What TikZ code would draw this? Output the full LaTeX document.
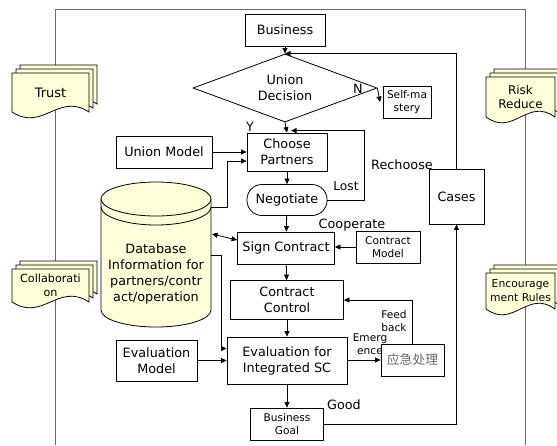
\documentclass[tikz,border=0pt]{standalone}
\usepackage{fontspec}
\setmainfont{DejaVu Sans}
\newfontfamily\cjkfont{Noto Sans CJK SC}
\usetikzlibrary{arrows.meta,shapes.geometric,calc}

\definecolor{docfill}{RGB}{255,255,217}
\definecolor{framegray}{RGB}{105,105,105}

\tikzset{
  big/.style={font=\fontsize{12.8}{16}\selectfont},
  small/.style={font=\fontsize{10.6}{12.5}\selectfont},
  box/.style={draw=black, line width=0.8pt, inner sep=1pt, align=center, big},
  sbox/.style={box, small},
  lbl/.style={inner sep=0pt, align=center, big},
  slbl/.style={inner sep=0pt, align=center, small},
  arr/.style={line width=0.8pt, -{Triangle[length=5.5pt,width=5pt]}},
  arrboth/.style={line width=0.8pt, {Triangle[length=5.5pt,width=5pt]}-{Triangle[length=5.5pt,width=5pt]}},
  docshape/.style={draw, line width=0.8pt, fill=docfill},
  frame/.style={draw=framegray, line width=0.9pt},
}

% stack of three documents: name, left x, top y, width, side height, font size, text
\newcommand\docstack[7]{%
  \foreach \o in {8,4,0} {%
    \filldraw[docshape] (#2+\o,#3-\o) -- (#2+#4+\o,#3-\o) -- (#2+#4+\o,#3+#5-\o)
      .. controls (#2+0.6*#4+\o,#3+#5-20-\o) and (#2+0.4*#4+\o,#3+#5+20-\o) .. (#2+\o,#3+#5-\o) -- cycle;}
  \node[inner sep=0pt, align=center, font=\fontsize{#6}{14}\selectfont] (#1) at (#2+#4/2,#3+#5/2) {#7};}

\begin{document}
\begin{tikzpicture}[x=1pt,y=-1pt]
\useasboundingbox (0,0) rectangle (557,445);
\clip (0,0) rectangle (557,445);

% outer frame, open at the bottom
\draw[frame] (55,445) -- (55,9) -- (525,9) -- (525,445);

% side documents
\docstack{trust}{12}{73}{77}{39}{13}{Trust}
\docstack{collab}{12}{269}{77}{33}{11.2}{Collaborati\\on}
\docstack{risk}{486}{77}{69}{40}{12}{Risk\\Reduce}
\docstack{encour}{486}{273}{69}{36}{10.8}{Encourage\\ment Rules}

% database cylinder
\fill[docfill] (101,199) -- (101,310)
  .. controls (101,319.4) and (125.6,327) .. (156,327)
  .. controls (186.4,327) and (211,319.4) .. (211,310)
  -- (211,199) -- cycle;
\filldraw[docshape] (156,199) ellipse[x radius=55, y radius=17];
\draw[line width=0.8pt] (101,199) -- (101,310)
  .. controls (101,319.4) and (125.6,327) .. (156,327)
  .. controls (186.4,327) and (211,319.4) .. (211,310) -- (211,199);
\draw[line width=0.8pt] (101,207)
  .. controls (101,216.4) and (125.6,225) .. (156,225)
  .. controls (186.4,225) and (211,216.4) .. (211,207);
\node[inner sep=0pt, minimum width=110pt, minimum height=145pt] (db) at (156,254.5) {};
\node[lbl] (dbtext) at (156,274) {Database\\Information for\\partners/contr\\act/operation};
\coordinate (db1) at (211,207);
\coordinate (db2) at (212,234);
\coordinate (db3) at (211,255);

% main flow
\node[box, minimum width=80pt, minimum height=32pt] (bus) at (285,30) {Business};
\node[draw, line width=0.8pt, diamond, minimum width=184pt, minimum height=68pt, inner sep=0pt] (dec) at (285,88) {};
\node[lbl] at (285,88) {Union\\Decision};
\node[sbox, minimum width=48pt, minimum height=32pt] (self) at (407,102) {Self-ma\\stery};
\coordinate (smtip) at (380,102);
\node[box, minimum width=80pt, minimum height=38pt] (choose) at (287,152) {Choose\\Partners};
\node[box, minimum width=80pt, minimum height=31pt, rounded corners=15pt] (neg) at (287,200) {Negotiate};
\node[box, minimum width=97pt, minimum height=32pt] (sign) at (286,248) {Sign Contract};
\node[sbox, minimum width=64pt, minimum height=32pt] (cmodel) at (388,247) {Contract\\Model};
\node[box, minimum width=113pt, minimum height=39pt] (control) at (287,300) {Contract\\Control};
\node[box, minimum width=63pt, minimum height=32pt] (emerg) at (412.5,360) {\textcolor{black!60}{\cjkfont 应急处理}};
\node[box, minimum width=120pt, minimum height=47pt] (eval) at (287,360.5) {Evaluation for\\Integrated SC};
\node[sbox, minimum width=73pt, minimum height=32pt] (bgoal) at (287,424) {Business\\Goal};
\node[box, minimum width=55pt, minimum height=55pt] (cases) at (456.5,196.5) {Cases};
\node[box, minimum width=96pt, minimum height=32pt] (umodel) at (164,152) {Union Model};
\node[box, minimum width=81pt, minimum height=41pt] (emodel) at (156.5,360.5) {Evaluation\\Model};

% connectors
\draw[arr] (bus) -- (dec.north);
\draw[arr] (cases.north) |- (dec.north);
\draw[arr] (dec.south) -- (choose.north);
\draw[arr] (dec.east) -- (smtip);
\draw[arr] (umodel.east) -- (umodel.east -| choose.west);
\draw[arr] (db1) -- ++(16,0) |- ($(choose.west)+(0,9)$);
\draw[arr] (choose) -- (neg);
\draw[arr] (neg.east) -- ++(37,0) |- ($(choose.north)+(4,-2)$);
\draw[arr] (neg) -- (sign);
\draw[arr] (cmodel.west) -- (cmodel.west -| sign.east);
\draw[arrboth] (db2) -- ($(sign.west)+(0,-8)$);
\draw[arr] (sign) -- (control);
\draw[arr] (control) -- (eval);
\draw[arr] (db3) -- ++(10,0) |- ($(eval.west)+(0,-12)$);
\draw[arr] (emodel.east) -- (emodel.east -| eval.west);
\draw[arr] (eval.east |- emerg.west) -- (emerg.west);
\draw[arr] (emerg.north) |- (control.east);
\draw[arr] (eval) -- (bgoal);
\draw[arr] (bgoal.east) -| (cases.south);

% connector labels
\node[lbl] (ly) at (250,127) {Y};
\node[lbl] (ln) at (358,89) {N};
\node[lbl, font=\fontsize{12.2}{16}\selectfont] (llost) at (346,186) {Lost};
\node[lbl] (lrech) at (402,165) {Rechoose};
\node[lbl] (lcoop) at (352,225) {Cooperate};
\node[lbl] (lgood) at (344,405) {Good};
\node[slbl] (lemer) at (370,344) {Emerg\\ence};
\node[slbl] (lfeed) at (394,321) {Feed\\back};
\end{tikzpicture}
\end{document}
